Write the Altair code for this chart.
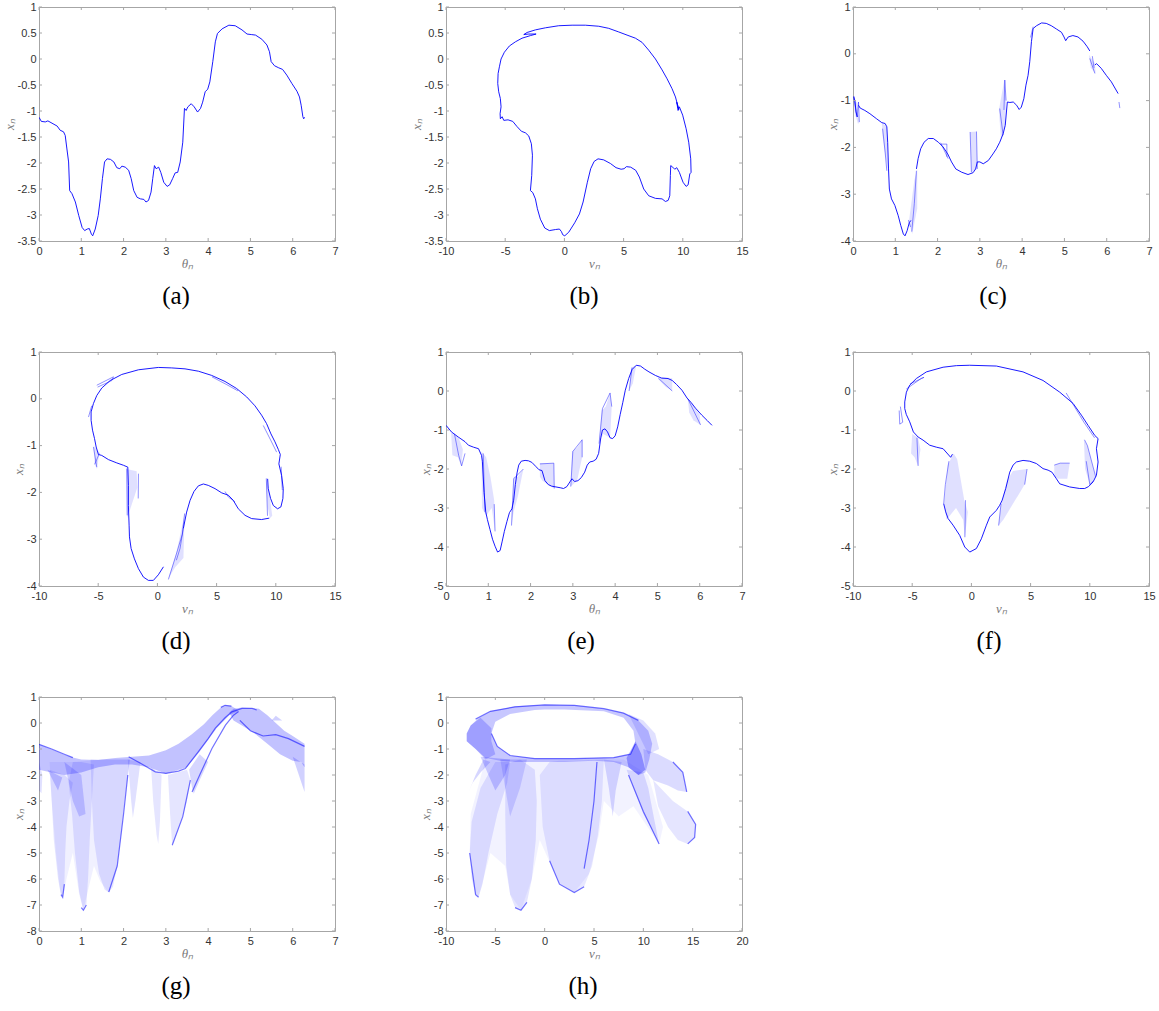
import altair as alt
import pandas as pd

BLUE = "#0000ff"
FRAME = "#a6a6a6"
W, H = 296, 234

# ---------------- (a) theta vs x ----------------
A_T = [0.00,0.055,0.15,0.21,0.43,0.50,0.58,0.62,0.66,0.70,0.725,0.78,0.86,0.94,1.02,1.08,1.14,1.19,1.24,1.27,
       1.33,1.40,1.45,1.50,1.55,1.61,1.69,1.77,1.84,1.91,1.96,2.04,2.12,2.18,2.24,2.32,2.40,2.48,2.53,2.59,
       2.65,2.69,2.73,2.77,2.83,2.88,2.95,3.03,3.09,3.16,3.22,3.28,3.34,3.40,3.44,3.48,3.52,3.60,3.67,3.75,
       3.82,3.87,3.93,3.99,4.04,4.11,4.17,4.22,4.33,4.49,4.64,4.80,4.92,5.02,5.12,5.27,5.39,5.45,5.49,5.57,
       5.67,5.76,5.86,5.98,6.10,6.16,6.20,6.24,6.26,6.28]
A_X = [-1.12,-1.20,-1.21,-1.19,-1.29,-1.37,-1.40,-1.47,-1.73,-1.98,-2.53,-2.59,-2.75,-3.01,-3.24,-3.30,-3.27,-3.26,-3.37,-3.40,
       -3.27,-3.01,-2.69,-2.30,-1.98,-1.92,-1.93,-1.98,-2.09,-2.11,-2.06,-2.08,-2.14,-2.30,-2.53,-2.66,-2.69,-2.70,-2.75,-2.72,
       -2.56,-2.30,-2.05,-2.11,-2.08,-2.18,-2.37,-2.45,-2.42,-2.30,-2.19,-2.18,-1.98,-1.60,-0.95,-0.99,-0.92,-0.86,-0.92,-1.02,
       -0.95,-0.83,-0.63,-0.58,-0.44,-0.05,0.33,0.49,0.58,0.65,0.64,0.56,0.48,0.47,0.46,0.38,0.27,0.14,-0.05,-0.13,
       -0.17,-0.20,-0.31,-0.47,-0.62,-0.73,-0.89,-1.11,-1.15,-1.12]

# ---------------- (b) v vs x ----------------
B_V = [-5.41,-5.26,-5.12,-4.76,-4.36,-4.00,-3.63,-3.29,-3.01,-2.79,-2.70,-2.76,-2.87,-2.67,-2.45,-2.28,-2.03,-1.66,-1.27,-0.76,
       -0.42,-0.25,-0.14,0.03,0.37,0.87,1.27,1.58,1.94,2.22,2.51,2.84,3.32,3.89,4.36,4.79,5.04,5.24,5.60,6.02,
       6.33,6.70,7.12,7.69,8.25,8.53,8.76,8.90,8.95,8.98,9.15,9.32,9.49,9.71,10.02,10.28,10.45,10.59,10.70,10.67,
       10.50,10.28,9.99,9.71,9.60,9.49,9.66,9.38,9.09,8.67,8.25,7.69,7.12,6.56,6.00,5.29,4.59,3.74,2.90,1.77,
       0.65,-0.48,-1.60,-2.45,-3.15,-3.43,-3.01,-2.39,-2.87,-3.58,-4.14,-4.65,-5.07,-5.35,-5.49,-5.60,-5.63,-5.55,-5.41,-5.35,
       -5.43,-5.41]
B_X = [-1.15,-1.11,-1.18,-1.17,-1.20,-1.30,-1.39,-1.42,-1.48,-1.63,-1.85,-2.24,-2.53,-2.57,-2.69,-2.88,-3.08,-3.25,-3.30,-3.28,
       -3.27,-3.32,-3.38,-3.40,-3.33,-3.15,-2.98,-2.75,-2.37,-2.11,-1.97,-1.92,-1.94,-2.01,-2.09,-2.12,-2.11,-2.07,-2.08,-2.14,
       -2.27,-2.50,-2.63,-2.68,-2.69,-2.74,-2.72,-2.63,-2.24,-2.05,-2.08,-2.12,-2.09,-2.18,-2.37,-2.45,-2.42,-2.21,-2.18,-1.92,
       -1.60,-1.34,-1.08,-0.92,-0.99,-0.83,-0.97,-0.73,-0.57,-0.38,-0.21,0.00,0.17,0.32,0.40,0.46,0.52,0.59,0.63,0.65,
       0.65,0.64,0.60,0.56,0.51,0.47,0.48,0.48,0.45,0.40,0.33,0.25,0.13,0.00,-0.15,-0.28,-0.47,-0.63,-0.76,-0.92,
       -1.05,-1.15]

# ---------------- (c) theta vs x ----------------
C_MAIN = [
    [[0.02,0.05,0.07,0.10], [-0.91,-1.03,-1.24,-1.35]],
    [[0.13,0.17,0.28,0.40,0.56,0.68,0.76,0.80,0.82,0.84,0.86,0.91,0.99,1.07,1.13,1.19,1.23,1.28,1.33,1.37],
     [-1.10,-1.16,-1.21,-1.28,-1.39,-1.47,-1.49,-1.56,-1.89,-2.46,-2.89,-3.10,-3.24,-3.46,-3.67,-3.85,-3.89,-3.78,-3.61,-3.56]],
    [[1.50,1.54,1.60,1.68,1.78,1.90,2.02,2.13,2.24,2.33,2.43,2.57,2.72,2.84,2.90,2.94,3.00,3.08,3.20,3.31,
      3.39,3.47,3.55,3.60,3.65,3.71,3.79,3.87,3.93,3.98,4.04,4.09,4.14,4.18,4.22,4.26,4.34,4.46,4.57,4.69,
      4.81,4.93,4.99,5.03,5.09,5.20,5.32,5.44,5.54,5.60],
     [-2.46,-2.24,-2.03,-1.89,-1.81,-1.81,-1.89,-1.99,-2.14,-2.31,-2.46,-2.53,-2.58,-2.54,-2.46,-2.31,-2.31,-2.35,-2.28,-2.14,
      -2.03,-1.89,-1.71,-1.53,-1.03,-1.04,-1.03,-1.10,-1.19,-1.14,-0.96,-0.67,-0.46,-0.17,0.26,0.54,0.60,0.66,0.65,0.60,
      0.53,0.46,0.36,0.28,0.36,0.39,0.36,0.27,0.15,0.06]],
    [[5.72,5.76,5.87,5.99,6.11,6.27], [-0.24,-0.21,-0.31,-0.46,-0.60,-0.85]],
]
C_FRAG = [
    [[0.01,0.10,0.13,0.15], [-0.92,-1.35,-1.03,-1.46]],
    [[0.70,0.76,0.80], [-1.60,-2.10,-2.50]],
    [[1.39,1.45,1.50], [-3.80,-3.20,-2.50]],
    [[1.31,1.36], [-3.55,-3.70]],
    [[2.07,2.15,2.25], [-1.90,-2.05,-2.24]],
    [[2.08,2.22,2.22], [-1.93,-1.93,-2.20]],
    [[2.77,2.80], [-1.67,-2.53]],
    [[2.92,2.94], [-1.66,-2.46]],
    [[3.47,3.55], [-1.17,-1.74]],
    [[3.57,3.59,3.62], [-1.20,-0.56,-1.00]],
    [[4.20,4.26], [0.35,0.58]],
    [[5.60,5.72], [-0.10,-0.42]],
    [[5.66,5.70], [-0.05,-0.30]],
    [[6.29,6.31], [-1.03,-1.16]],
]
C_POLY = [
    [[0.00,0.10,0.15,0.12,0.05], [-0.95,-1.05,-1.45,-1.50,-1.30]],
    [[0.68,0.80,0.83,0.75,0.70], [-1.47,-1.56,-2.50,-2.10,-1.75]],
    [[1.32,1.40,1.52,1.52,1.45], [-3.60,-3.85,-3.30,-2.45,-2.70]],
    [[2.77,2.92,2.94,2.80], [-1.67,-1.66,-2.46,-2.53]],
    [[3.45,3.58,3.62,3.60,3.50], [-1.20,-0.55,-1.00,-1.55,-1.85]],
    [[5.58,5.72,5.74,5.62], [-0.02,-0.20,-0.42,-0.30]],
]

# ---------------- (d) v vs x ----------------
D_MAIN = [
    [[0.08,1.21,2.33,3.46,4.58,5.71,6.69,7.54,8.24,8.80,9.22,9.59,9.93,10.21,10.38,10.26,10.49,10.63,10.60,10.43,10.15,9.79,9.56,9.36,9.31],
     [0.67,0.66,0.64,0.59,0.50,0.37,0.22,0.04,-0.15,-0.35,-0.53,-0.75,-0.92,-1.08,-1.19,-1.39,-1.64,-1.92,-2.13,-2.31,-2.35,-2.28,-2.13,-1.92,-1.71]],
    [[9.45,8.80,7.96,7.40,6.83,6.41,5.99,5.43,4.87,4.30,3.88,3.46,3.09,2.76,2.47,2.19],
     [-2.55,-2.58,-2.56,-2.49,-2.35,-2.17,-2.06,-2.01,-1.92,-1.85,-1.82,-1.86,-1.98,-2.17,-2.42,-2.77]],
    [[0.51,0.08,-0.34,-0.76,-1.18,-1.60,-1.94,-2.22,-2.36,-2.39,-2.45,-2.45,-2.50,-2.87,-3.43,-4.13,-4.70,-4.98,-5.17,-5.31,
      -5.48,-5.60,-5.60,-5.40,-5.12,-4.70,-3.99,-3.01,-1.60,0.08],
     [-3.59,-3.76,-3.88,-3.88,-3.81,-3.63,-3.42,-3.20,-2.95,-2.70,-2.28,-1.85,-1.46,-1.42,-1.37,-1.30,-1.21,-1.19,-1.03,-0.85,
      -0.67,-0.46,-0.28,-0.10,0.07,0.23,0.39,0.52,0.62,0.67]],
]
D_FRAG = [
    [[-5.12,-3.71,-3.85,-5.05], [0.29,0.47,0.39,0.25]],
    [[-5.82,-5.55], [-0.39,-0.15]],
    [[-5.40,-5.12], [-1.03,-1.46]],
    [[-5.30,-4.90], [-1.40,-1.17]],
    [[-2.59,-2.55], [-1.49,-2.49]],
    [[-1.60,-1.62], [-1.60,-2.13]],
    [[2.19,1.91,1.60], [-2.77,-3.20,-3.45]],
    [[2.30,2.10,1.50,0.93], [-2.45,-2.90,-3.40,-3.86]],
    [[5.71,6.00,6.55], [-1.98,-2.10,-2.20]],
    [[9.20,9.30], [-1.70,-2.50]],
    [[10.45,10.55], [-1.45,-1.95]],
    [[8.94,9.60,10.07], [-0.57,-0.90,-1.14]],
    [[4.60,5.80,6.80], [0.47,0.31,0.17]],
]
D_POLY = [
    [[-5.40,-4.90,-5.10,-5.30], [-1.00,-1.15,-1.50,-1.40]],
    [[-2.60,-1.75,-1.70,-2.55], [-1.50,-1.55,-1.90,-2.55]],
    [[0.90,1.60,2.30,2.20,1.50], [-3.85,-3.30,-2.45,-3.40,-3.60]],
    [[9.15,9.40,9.70,9.50,9.30], [-1.70,-1.90,-2.50,-2.55,-2.30]],
]

# ---------------- (e) theta vs x ----------------
E_T = [0.00,0.13,0.29,0.45,0.53,0.65,0.77,0.84,0.86,0.90,0.94,0.98,1.04,1.10,1.16,1.22,1.28,1.33,1.38,1.44,
       1.50,1.56,1.60,1.64,1.68,1.72,1.78,1.87,1.95,2.03,2.12,2.20,2.27,2.34,2.42,2.50,2.60,2.70,2.78,2.86,
       2.93,2.98,3.04,3.12,3.20,3.28,3.34,3.40,3.48,3.55,3.61,3.66,3.70,3.76,3.82,3.88,3.94,4.00,4.06,4.12,
       4.18,4.24,4.32,4.40,4.50,4.60,4.70,4.80,4.95,5.10,5.25,5.35,5.45,5.58,5.70,5.80,5.90,6.05,6.18,6.29]
E_X = [-0.88,-1.05,-1.18,-1.30,-1.39,-1.44,-1.48,-1.65,-1.80,-2.60,-3.10,-3.30,-3.55,-3.80,-3.98,-4.13,-4.09,-3.85,-3.60,-3.35,
       -3.12,-3.02,-2.80,-2.40,-2.10,-1.90,-1.80,-1.78,-1.79,-1.83,-1.93,-2.02,-2.04,-2.30,-2.40,-2.44,-2.46,-2.48,-2.50,-2.45,
       -2.33,-2.25,-2.32,-2.30,-2.22,-2.08,-1.90,-1.82,-1.80,-1.75,-1.60,-1.20,-1.00,-0.97,-1.05,-1.20,-1.22,-1.15,-0.92,-0.60,
       -0.30,0.02,0.32,0.55,0.66,0.64,0.56,0.49,0.40,0.33,0.32,0.27,0.17,0.02,-0.18,-0.30,-0.44,-0.62,-0.76,-0.88]
E_FRAG = [
    [[0.20,0.30,0.37,0.45], [-1.10,-1.65,-1.92,-1.60]],
    [[0.88,0.92], [-1.60,-3.10]],
    [[1.14,1.16], [-2.90,-3.60]],
    [[1.55,1.60,1.83], [-3.45,-2.25,-2.00]],
    [[2.22,2.55,2.56], [-1.87,-1.85,-2.50]],
    [[2.95,3.00,3.22,3.22], [-2.45,-1.55,-1.25,-1.70]],
    [[3.62,3.70,3.88,3.92], [-1.35,-0.45,-0.05,-0.40]],
    [[4.33,4.40], [0.00,0.60]],
    [[5.02,5.35], [0.33,0.00]],
    [[5.72,6.02], [-0.20,-0.87]],
]
E_POLY = [
    [[0.12,0.30,0.40,0.36,0.28,0.15], [-1.05,-1.20,-1.50,-1.92,-1.70,-1.65]],
    [[0.84,0.95,1.05,1.14,1.16,1.08,0.95,0.85], [-1.55,-1.70,-2.20,-2.80,-3.60,-3.00,-3.20,-3.00]],
    [[1.55,1.60,1.70,1.83,1.70,1.60], [-3.45,-2.20,-2.20,-2.00,-2.70,-3.10]],
    [[2.22,2.55,2.56,2.40,2.28,2.22], [-1.85,-1.85,-2.50,-2.40,-2.30,-2.20]],
    [[2.95,2.98,3.10,3.22,3.22,3.10], [-2.45,-1.55,-1.45,-1.25,-1.70,-2.30]],
    [[3.62,3.68,3.78,3.88,3.92,3.88,3.72], [-1.35,-0.50,-0.40,-0.05,-0.40,-1.20,-1.10]],
    [[4.33,4.38,4.50,4.42], [0.00,0.60,0.66,0.20]],
    [[5.02,5.10,5.35,5.35,5.20], [0.30,0.36,0.33,0.00,0.10]],
    [[5.72,5.80,6.00,6.02,5.85,5.75], [-0.20,-0.30,-0.60,-0.87,-0.75,-0.55]],
]

# ---------------- (f) v vs x ----------------
F_MAIN = [
    [[-0.14,2.11,4.36,6.05,7.46,8.59,9.29,9.85,10.42,10.70,10.56,10.70,10.56,10.28,9.90,9.57,9.15,8.30,7.46,7.18,
      6.80,6.48,6.05,5.49,4.93,4.36,3.80,3.52,3.24,2.90,2.60,2.39,2.11,1.55,1.27,0.84,0.42,-0.14,-0.56,-0.99,
      -1.55,-1.97,-2.17,-2.34],
     [0.66,0.64,0.49,0.27,-0.03,-0.32,-0.62,-0.88,-1.14,-1.22,-1.48,-1.82,-2.16,-2.33,-2.45,-2.50,-2.50,-2.46,-2.38,-2.25,
      -2.08,-2.03,-1.99,-1.86,-1.80,-1.78,-1.82,-1.90,-2.08,-2.50,-2.80,-2.93,-3.06,-3.23,-3.44,-3.79,-4.04,-4.13,-4.00,-3.70,
      -3.44,-3.27,-3.10,-2.89]],
    [[-1.60,-1.75,-2.39,-2.96,-3.52,-4.08,-4.50,-4.90,-5.21,-5.50,-5.63,-5.63,-5.49,-5.21,-4.65,-3.80,-2.39,-1.27,-0.14],
     [-1.62,-1.70,-1.48,-1.44,-1.39,-1.26,-1.18,-1.05,-0.79,-0.60,-0.45,-0.28,-0.03,0.15,0.32,0.49,0.61,0.65,0.66]],
]
F_FRAG = [
    [[-5.50,-4.20,-4.00,-5.20], [0.05,0.33,0.35,0.18]],
    [[-6.00,-5.80,-6.05,-6.10], [-0.40,-0.80,-0.85,-0.50]],
    [[-4.60,-4.50], [-1.20,-1.92]],
    [[-2.34,-2.20,-1.90], [-2.89,-2.40,-1.80]],
    [[-0.50,-0.55], [-2.80,-3.75]],
    [[2.30,2.50], [-3.45,-2.90]],
    [[4.50,4.70], [-2.40,-2.00]],
    [[7.00,7.50,8.30], [-1.90,-1.85,-1.85]],
    [[9.55,9.80,10.50], [-1.25,-1.40,-2.20]],
    [[9.70,10.00,10.30], [-1.80,-2.40,-2.30]],
    [[8.00,8.60,9.50,10.40], [-0.05,-0.35,-0.80,-1.20]],
]
F_POLY = [
    [[-5.00,-4.50,-4.30,-4.50,-4.80,-5.10], [-1.10,-1.20,-1.50,-1.92,-1.70,-1.60]],
    [[-2.30,-2.00,-1.50,-1.20,-0.60,-0.30,-0.55,-0.70,-1.30,-2.10], [-2.90,-1.90,-1.60,-1.75,-2.80,-3.10,-3.75,-3.30,-3.00,-3.30]],
    [[2.30,2.50,3.00,3.50,4.70,4.50,3.50,2.70], [-3.45,-2.90,-2.30,-2.05,-2.00,-2.40,-2.90,-3.30]],
    [[7.00,7.50,8.30,8.10,7.30,7.00], [-1.90,-1.85,-1.85,-2.25,-2.25,-2.20]],
    [[9.50,9.80,10.50,10.00,9.60], [-1.25,-1.40,-2.20,-2.40,-2.00]],
]

# ---------------- (g) theta vs x : point clouds ----------------
G_CLOUD = [
    [[0.25,0.30,0.40,0.50,0.56,0.65,0.80,0.95,1.05,1.15,1.30,1.45,1.65,1.85,2.00,2.15,1.50,0.80],
     [-1.50,-3.00,-5.00,-6.50,-6.70,-6.00,-5.00,-6.60,-7.20,-6.50,-5.50,-6.10,-6.52,-5.50,-3.50,-1.40,-1.40,-1.50]],
    [[0,0.2,0.4,0.6,0.8,1.0,1.4,1.8,2.2,2.6,3.0,3.3,3.6,3.9,4.1,4.3,4.4,4.55,4.7,4.7,4.5,4.2,3.8,3.5,3.0,2.6,2.2,1.8,1.4,1.0,0.6,0.3,0.0],
     [-0.82,-0.95,-1.08,-1.22,-1.33,-1.40,-1.42,-1.35,-1.30,-1.25,-1.05,-0.80,-0.45,-0.05,0.30,0.60,0.68,0.65,0.50,0.45,0.30,-0.20,-1.10,-1.70,-1.95,-1.70,-1.60,-1.60,-1.70,-1.90,-2.00,-1.90,-1.80]],
    [[0,0.08,0.06,0], [-1.5,-2.0,-2.7,-2.6]],
    [[0.25,0.30,0.35,0.45,0.52,0.56,0.60,0.62,0.65,0.72,0.80,0.60], [-1.8,-3.0,-4.5,-6.0,-6.6,-6.7,-6.2,-5.0,-4.0,-3.0,-2.3,-2.0]],
    [[0.20,0.45,0.55], [-1.8,-2.6,-2.1]],
    [[0.70,0.78,0.85,0.95,1.05,1.12,1.16,1.20,1.25,1.30,1.00,0.80], [-2.3,-3.5,-5.0,-6.5,-7.2,-7.0,-6.0,-4.5,-3.0,-1.6,-1.5,-1.5]],
    [[0.60,0.80,0.95,1.10,1.00], [-1.5,-3.0,-3.6,-3.5,-2.0]],
    [[1.22,1.25,1.30,1.42,1.55,1.65,1.75,1.85,1.95,2.02,2.10,2.15], [-1.4,-3.0,-4.5,-5.8,-6.4,-6.52,-6.3,-5.5,-4.2,-3.0,-2.0,-1.4]],
    [[2.10,2.18,2.22,2.28,2.40], [-1.4,-3.0,-3.65,-3.0,-1.5]],
    [[2.65,2.70,2.78,2.82,2.86,2.90], [-1.7,-3.0,-4.3,-4.65,-3.8,-2.0]],
    [[3.05,3.10,3.15,3.25,3.40,3.50,3.58,3.50], [-2.0,-3.5,-4.7,-4.3,-3.6,-3.0,-2.2,-1.8]],
    [[3.55,3.62,3.66,3.80,4.00,3.80], [-1.8,-2.5,-2.72,-2.2,-1.5,-1.2]],
    [[4.5,4.6,4.8,5.0,5.2,5.4,5.6,5.8,6.0,6.28,6.28,6.2,6.0,5.7,5.4,5.1,4.8,4.6],
     [0.40,0.55,0.60,0.58,0.55,0.30,0.00,-0.30,-0.50,-0.80,-1.70,-1.50,-1.45,-1.20,-0.80,-0.40,-0.10,0.10]],
    [[6.00,6.28,6.28], [-1.3,-2.65,-1.6]],
    [[5.50,5.60,5.75], [0.10,0.28,0.10]],
]
G_ALPHA = [0.06,0.24,0.12,0.1,0.18,0.1,0.16,0.1,0.12,0.1,0.1,0.16,0.24,0.18,0.18]
G_DARK = [
    [[0,0.3,0.6,0.8], [-0.82,-1.0,-1.2,-1.33]],
    [[2.12,2.4,2.75,3.0,3.3,3.46,3.77,4.0,4.17,4.4,4.56,4.8,5.04,5.15], [-1.3,-1.55,-1.88,-1.94,-1.85,-1.75,-1.1,-0.6,-0.2,0.2,0.43,0.56,0.56,0.5]],
    [[3.62,3.8,4.09,4.41,4.6,4.72], [-2.65,-2.0,-0.98,-0.08,0.3,0.44]],
    [[4.75,5.0,5.3,5.6,5.9,6.28], [0.1,-0.3,-0.5,-0.45,-0.6,-0.9]],
    [[1.65,1.85,2.0,2.1], [-6.5,-5.5,-3.5,-2.0]],
    [[3.15,3.4,3.58], [-4.7,-3.6,-2.2]],
    [[0.52,0.56,0.6], [-6.6,-6.7,-6.2]],
    [[1.0,1.05,1.12], [-7.1,-7.2,-7.0]],
    [[4.3,4.4,4.55], [0.6,0.68,0.65]],
]

# ---------------- (h) v vs x : point clouds ----------------
H_CLOUD = [
    [[-6.0,-7.5,-7.6,-7.0,-6.7,-5.5,-4.0,-3.5,-2.4,-1.3,-0.5,1.5,3.0,4.5,5.5,6.0,7.5,9.0,11.6,12.0,10.5,8.0,2.0,-4.0],
     [-1.4,-3.5,-5.0,-6.6,-6.7,-5.0,-5.5,-6.6,-7.2,-6.0,-4.5,-6.2,-6.52,-5.8,-4.3,-3.0,-3.6,-3.2,-4.65,-4.0,-2.0,-1.4,-1.4,-1.4]],
    [[0,3,6,8,9.5,10.5,10.9,10.6,10.2,9.5,8.5,7,5,2,-1,-3,-4.5,-6.0,-7.0,-7.9,-7.9,-7.5,-6.8,-5.5,-3,0,
      0,-1,-3.5,-5.0,-5.4,-4.8,-3.5,-1,3,7,8.7,9.2,9.0,8,6,2,0],
     [0.70,0.68,0.55,0.38,0.10,-0.30,-0.80,-1.40,-1.90,-2.00,-1.70,-1.50,-1.45,-1.50,-1.50,-1.50,-1.45,-1.35,-1.00,-0.70,-0.40,-0.10,0.15,0.45,0.64,0.70,
      0.52,0.50,0.35,0.05,-0.40,-0.90,-1.25,-1.37,-1.37,-1.33,-1.20,-0.80,-0.30,0.20,0.45,0.52,0.52]],
    [[-7.9,-7.5,-6.5,-5.4,-5.4,-5.0,-6.0,-7.0,-7.9], [-0.4,-0.1,0.2,-0.2,-0.7,-1.2,-1.4,-1.0,-0.7]],
    [[8.8,9.2,9.8,10.2,9.5,8.5,8.3], [-1.0,-0.7,-1.2,-1.8,-2.0,-1.7,-1.35]],
    [[-6.2,-7.0,-7.7,-7.3,-6.5,-5.5], [-1.4,-2.0,-2.65,-2.3,-1.9,-1.5]],
    [[-5.0,-6.5,-7.4,-7.6,-7.4,-7.0,-6.7,-6.3,-5.7,-4.8,-3.8,-3.5], [-1.5,-2.5,-3.8,-5.0,-6.0,-6.6,-6.7,-6.2,-5.0,-3.5,-2.3,-1.5]],
    [[-6.5,-5.0,-4.0,-3.5], [-1.3,-2.6,-2.0,-1.4]],
    [[-4.0,-4.0,-3.9,-3.5,-3.0,-2.4,-1.8,-1.3,-0.9,-0.8,-1.0,-2.5], [-1.6,-3.5,-5.5,-6.6,-7.1,-7.2,-6.9,-6.0,-4.5,-3.0,-1.8,-1.4]],
    [[-4.5,-3.5,-2.5,-1.8], [-1.4,-3.6,-2.5,-1.4]],
    [[-0.5,-0.2,0.5,1.5,3.0,4.0,4.8,5.4,5.8,6.0,3.0,1.5,0.5], [-2.0,-4.0,-5.3,-6.2,-6.52,-6.3,-5.5,-4.3,-3.0,-1.4,-1.45,-1.45,-1.5]],
    [[6.0,6.5,6.9,7.2,7.8], [-1.4,-2.5,-3.6,-2.6,-1.5]],
    [[8.3,9.0,10.0,11.0,11.6,11.0,10.5,10.0], [-1.8,-2.5,-3.5,-4.2,-4.65,-3.5,-2.5,-1.9]],
    [[10.0,11.5,13.0,14.0,14.4,13.5,12.5,11.0,10.2], [-1.0,-1.2,-1.5,-1.9,-2.65,-2.6,-2.4,-2.2,-1.8]],
    [[11.0,13.0,14.5,15.3,15.2,14.5,13.5,12.5,11.5], [-2.2,-3.0,-3.4,-3.9,-4.4,-4.65,-4.5,-4.0,-3.2]],
    [[8.5,10.0,11.2,11.6,10.5], [0.35,0.1,-0.4,-1.0,-1.2]],
]
H_ALPHA = [0.05,0.22,0.2,0.3,0.16,0.1,0.18,0.1,0.13,0.09,0.14,0.12,0.14,0.1,0.12]
H_DARK = [
    [[-7.0,-5.5,-3.0,0,3,6,8,9.5], [0.15,0.45,0.62,0.70,0.68,0.55,0.38,0.10]],
    [[-5.4,-4.8,-3.5,-1,3,7,8.7,9.2], [-0.40,-0.90,-1.25,-1.37,-1.37,-1.33,-1.20,-0.80]],
    [[0.5,1.5,3.0,4.0], [-5.3,-6.2,-6.52,-6.3]],
    [[8.5,10.0,11.6], [-2.0,-3.4,-4.65]],
    [[14.5,15.3,15.2,14.5], [-3.4,-3.9,-4.4,-4.65]],
    [[-7.6,-7.0,-6.7], [-5.0,-6.6,-6.7]],
    [[5.3,5.0,4.5,4.0], [-1.5,-3.0,-4.5,-5.6]],
    [[-3.0,-2.4,-1.8], [-7.1,-7.2,-6.9]],
    [[13.0,14.0,14.4], [-1.5,-1.9,-2.65]],
]

# tick values
T_TICKS = [0, 1, 2, 3, 4, 5, 6, 7]
V_TICKS = [-10, -5, 0, 5, 10, 15]
V_TICKS_H = [-10, -5, 0, 5, 10, 15, 20]
Y_AB = [1, 0.5, 0, -0.5, -1, -1.5, -2, -2.5, -3, -3.5]
Y_CD = [1, 0, -1, -2, -3, -4]
Y_EF = [1, 0, -1, -2, -3, -4, -5]
Y_GH = [1, 0, -1, -2, -3, -4, -5, -6, -7, -8]


def seg_df(segs, alphas=None):
    rows = []
    for k, s in enumerate(segs):
        a = alphas[k] if alphas else 1.0
        for i, (x, y) in enumerate(zip(s[0], s[1])):
            rows.append({"seg": k, "i": i, "x": x, "y": y, "a": a})
    return pd.DataFrame(rows, columns=["seg", "i", "x", "y", "a"])


def panel(main, xdom, ydom, xt, yt, xtitle, cap, capdx,
          frags=None, polys=None, poly_alpha=None, dark=None):
    xs = alt.Scale(domain=xdom, nice=False, zero=False)
    ys = alt.Scale(domain=ydom, nice=False, zero=False)
    common = dict(ticks=False, tickSize=0, domain=False, grid=False,
                  labelFont="Liberation Sans", labelFontSize=11, labelColor="#333333",
                  labelExpr="datum.value + ''", labelFlush=False, labelOverlap=False,
                  titleFont="Liberation Serif", titleFontStyle="italic", titleFontWeight="normal",
                  titleFontSize=13, titleColor="#7a7a7a")
    ax_x = alt.Axis(values=xt, title=xtitle, labelPadding=4, titlePadding=1, **common)
    ax_y = alt.Axis(values=yt, title="xₙ", labelPadding=3, titlePadding=1, **common)
    X = alt.X("x:Q", scale=xs, axis=ax_x)
    Y = alt.Y("y:Q", scale=ys, axis=ax_y)
    layers = []
    if polys:
        layers.append(
            alt.Chart(seg_df(polys, poly_alpha)).mark_line(
                interpolate="linear-closed", fill=BLUE, strokeOpacity=0, clip=True
            ).encode(x=X, y=Y, order="i:Q", detail="seg:N",
                     fillOpacity=alt.FillOpacity("a:Q", scale=None)))
    if frags:
        layers.append(
            alt.Chart(seg_df(frags)).mark_line(color=BLUE, strokeWidth=0.8, strokeOpacity=0.55, clip=True).encode(
                x=X, y=Y, order="i:Q", detail="seg:N"))
    if dark:
        layers.append(
            alt.Chart(seg_df(dark)).mark_line(color=BLUE, strokeWidth=1.2, strokeOpacity=0.55, clip=True).encode(
                x=X, y=Y, order="i:Q", detail="seg:N"))
    if main:
        layers.append(
            alt.Chart(seg_df(main)).mark_line(color=BLUE, strokeWidth=0.9, clip=True).encode(
                x=X, y=Y, order="i:Q", detail="seg:N"))
    tx = pd.DataFrame({"x": xt})
    ty = pd.DataFrame({"y": yt})
    tick = dict(color=FRAME, strokeWidth=1)
    layers += [
        alt.Chart(tx).mark_rule(**tick).encode(x=X, y=alt.value(H), y2=alt.value(H - 3)),
        alt.Chart(tx).mark_rule(**tick).encode(x=X, y=alt.value(0), y2=alt.value(3)),
        alt.Chart(ty).mark_rule(**tick).encode(y=Y, x=alt.value(0), x2=alt.value(3)),
        alt.Chart(ty).mark_rule(**tick).encode(y=Y, x=alt.value(W), x2=alt.value(W - 3)),
    ]
    return alt.layer(*layers).properties(
        width=W, height=H,
        title=alt.TitleParams(text=cap, orient="bottom", anchor="middle", font="Liberation Serif",
                              fontSize=25, fontWeight="normal", color="#000000", offset=14, dx=capdx))


pa = panel([[A_T, A_X]], [0, 7], [-3.5, 1], T_TICKS, Y_AB, "θₙ", "(a)", -11)
pb = panel([[B_V, B_X]], [-10, 15], [-3.5, 1], V_TICKS, Y_AB, "vₙ", "(b)", -10)
pc = panel(C_MAIN, [0, 7], [-4, 1], T_TICKS, Y_CD, "θₙ", "(c)", -8,
           frags=C_FRAG, polys=C_POLY, poly_alpha=[0.12] * len(C_POLY))
pd_ = panel(D_MAIN, [-10, 15], [-4, 1], V_TICKS, Y_CD, "vₙ", "(d)", -11,
            frags=D_FRAG, polys=D_POLY, poly_alpha=[0.12] * len(D_POLY))
pe = panel([[E_T, E_X]], [0, 7], [-5, 1], T_TICKS, Y_EF, "θₙ", "(e)", -13,
           frags=E_FRAG, polys=E_POLY, poly_alpha=[0.12] * len(E_POLY))
pf = panel(F_MAIN, [-10, 15], [-5, 1], V_TICKS, Y_EF, "vₙ", "(f)", -12,
           frags=F_FRAG, polys=F_POLY, poly_alpha=[0.12] * len(F_POLY))
pg = panel([], [0, 7], [-8, 1], T_TICKS, Y_GH, "θₙ", "(g)", -11,
           polys=G_CLOUD, poly_alpha=G_ALPHA, dark=G_DARK)
ph = panel([], [-10, 20], [-8, 1], V_TICKS_H, Y_GH, "vₙ", "(h)", -11,
           polys=H_CLOUD, poly_alpha=H_ALPHA, dark=H_DARK)

chart = alt.concat(pa, pb, pc, pd_, pe, pf, pg, ph, columns=3, spacing=111, bounds="flush").configure_view(
    stroke=FRAME, strokeWidth=1
).properties(
    background="white",
    padding={"left": 2, "top": 0, "right": 0, "bottom": 0},
)

chart.save("out.html", embed_options={"renderer": "svg", "actions": False})
